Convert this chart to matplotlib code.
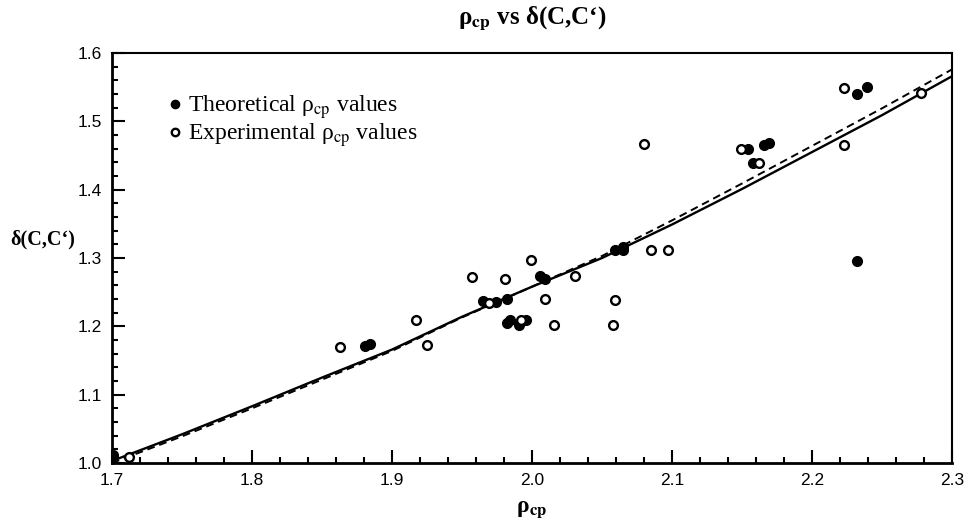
import matplotlib.pyplot as plt
from matplotlib.ticker import MultipleLocator

plt.rcParams['mathtext.fontset'] = 'stix'

# theoretical rho_cp values (filled)
theo_x = [1.701, 1.881, 1.884, 1.965, 1.974, 1.982, 1.982, 1.984, 1.991, 1.996,
          2.006, 2.009, 2.059, 2.065, 2.065, 2.154, 2.158, 2.166, 2.169,
          2.232, 2.239, 2.232]
theo_y = [1.012, 1.171, 1.174, 1.237, 1.235, 1.240, 1.205, 1.209, 1.202, 1.209,
          1.273, 1.270, 1.311, 1.312, 1.316, 1.459, 1.439, 1.466, 1.468,
          1.540, 1.550, 1.296]

# experimental rho_cp values (open)
exp_x = [1.712, 1.863, 1.917, 1.925, 1.957, 1.969, 1.981, 1.999, 2.009, 1.992,
         2.016, 2.031, 2.059, 2.058, 2.080, 2.085, 2.097, 2.149, 2.162,
         2.223, 2.223, 2.278]
exp_y = [1.009, 1.170, 1.209, 1.173, 1.272, 1.234, 1.270, 1.297, 1.240, 1.209,
         1.202, 1.274, 1.238, 1.202, 1.467, 1.311, 1.311, 1.459, 1.439,
         1.549, 1.466, 1.541]

# fitted curves
fit_x = [1.70, 1.75, 1.80, 1.85, 1.90, 1.95, 2.00, 2.05, 2.10, 2.15, 2.20, 2.25, 2.30]
fit_solid = [1.003, 1.042, 1.083, 1.125, 1.166, 1.214, 1.258, 1.300, 1.349, 1.401, 1.455, 1.509, 1.566]
fit_dash = [1.000, 1.039, 1.080, 1.122, 1.164, 1.213, 1.258, 1.303, 1.355, 1.409, 1.464, 1.519, 1.576]

fig = plt.figure(figsize=(9.67, 5.21), dpi=100)
ax = fig.add_axes([0.1158, 0.1113, 0.8687, 0.787])

ax.plot(fit_x, fit_solid, color='black', lw=1.7, zorder=2)
ax.plot(fit_x, fit_dash, color='black', lw=1.4, ls=(0, (4, 2.5)), zorder=2)

ax.plot(theo_x, theo_y, 'o', ms=7, color='black', zorder=3,
        label='Theoretical ρ$_{\\mathrm{cp}}$ values')
ax.plot(exp_x, exp_y, 'o', ms=6.3, mfc='white', mec='black', mew=1.7, zorder=3,
        label='Experimental ρ$_{\\mathrm{cp}}$ values')

ax.set_xlim(1.7, 2.3)
ax.set_ylim(1.0, 1.6)
ax.xaxis.set_major_locator(MultipleLocator(0.1))
ax.xaxis.set_minor_locator(MultipleLocator(0.02))
ax.yaxis.set_major_locator(MultipleLocator(0.1))
ax.yaxis.set_minor_locator(MultipleLocator(0.02))
ax.xaxis.set_major_formatter(lambda v, p: f'{v:.1f}')
ax.yaxis.set_major_formatter(lambda v, p: f'{v:.1f}')

ax.tick_params(which='both', direction='in', top=False, right=False, width=1.5,
               labelsize=12.5, labelfontfamily='Liberation Sans')
ax.tick_params(which='major', length=9.5, pad=7)
ax.tick_params(which='minor', length=4.5)
for s in ax.spines.values():
    s.set_linewidth(1.5)
ax.spines['left'].set_linewidth(2)
ax.spines['bottom'].set_linewidth(2)

ax.set_title('ρ$_{\\mathbf{cp}}$ vs δ(C,C‘)', fontsize=18, fontweight='bold',
             family='Liberation Serif', pad=21)
ax.set_xlabel('ρ$_{\\mathbf{cp}}$', fontsize=17, fontweight='bold',
              family='Liberation Serif', labelpad=8)
ax.set_ylabel('δ(C,C‘)', fontsize=14.5, fontweight='bold', family='Liberation Serif',
              rotation=0, ha='center', va='center')
ax.yaxis.set_label_coords(-0.082, 0.545)

ax.legend(loc='upper left', bbox_to_anchor=(0.046, 0.93), frameon=False,
          prop={'family': 'Liberation Serif', 'size': 17}, handletextpad=0.0,
          handlelength=1.1, labelspacing=0.0, borderpad=0, markerscale=0.85)

fig.savefig('out.png', dpi=100)
